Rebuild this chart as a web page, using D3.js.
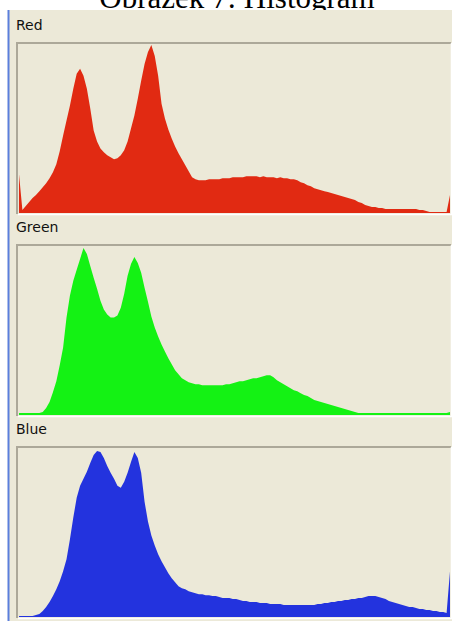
<!DOCTYPE html>
<html>
<head>
<meta charset="utf-8">
<script src="https://cdn.jsdelivr.net/npm/d3@7"></script>
<style>
  body { margin: 0; background: #fff; }
  svg { display: block; }
</style>
</head>
<body>
<svg id="chart" width="452" height="621"></svg>
<script>
var title = "Obrázek 7: Histogram";
var channels = ["Red", "Green", "Blue"];
var channelColors = ["#e12a12", "#14f214", "#2333de"];

// 128 bins, two intensity levels each
var levels = d3.range(0, 256, 2);

var redValues = [
    39, 3, 7, 11, 15, 18, 22, 26, 30, 35, 41, 49, 62, 78, 93, 108,
    125, 140, 145, 138, 125, 105, 83, 72, 65, 61, 58, 56, 54, 55, 58, 63,
    72, 85, 98, 115, 133, 150, 162, 169, 158, 138, 110, 95, 84, 75, 67, 60,
    54, 48, 42, 36, 34, 33, 33, 33, 34, 34, 34, 34, 35, 35, 35, 36,
    36, 36, 36, 37, 37, 37, 37, 36, 37, 36, 36, 36, 35, 36, 35, 35,
    34, 34, 33, 31, 30, 28, 27, 25, 24, 23, 22, 21, 20, 19, 18, 17,
    16, 15, 14, 13, 11, 10, 8, 7, 6, 6, 5, 5, 4, 4, 4, 4,
    4, 4, 4, 4, 4, 4, 3, 3, 2, 1, 1, 1, 1, 1, 1, 18
];

var greenValues = [
    2, 2, 2, 2, 2, 2, 2, 3, 7, 13, 23, 34, 50, 68, 98, 120,
    135, 146, 157, 168, 162, 150, 138, 127, 115, 106, 101, 98, 98, 100, 108, 122,
    140, 152, 159, 153, 143, 128, 114, 99, 88, 79, 71, 64, 57, 51, 45, 41,
    37, 35, 33, 32, 31, 31, 30, 30, 30, 30, 30, 30, 30, 31, 31, 32,
    33, 34, 34, 35, 36, 37, 37, 38, 39, 40, 40, 38, 35, 33, 31, 29,
    27, 25, 24, 22, 20, 19, 17, 15, 14, 13, 12, 11, 10, 9, 8, 7,
    6, 5, 4, 3, 2, 2, 2, 2, 2, 2, 2, 2, 2, 2, 2, 2,
    2, 2, 2, 2, 2, 2, 2, 2, 2, 2, 2, 2, 2, 2, 2, 3
];

var blueValues = [
    1, 1, 1, 1, 1, 2, 3, 6, 10, 15, 21, 28, 36, 46, 58, 78,
    100, 120, 132, 139, 146, 155, 163, 167, 166, 160, 152, 145, 139, 132, 130, 136,
    145, 156, 166, 160, 145, 116, 96, 82, 72, 63, 56, 50, 44, 39, 35, 31,
    29, 28, 26, 25, 24, 23, 23, 22, 22, 21, 21, 20, 19, 19, 19, 18,
    18, 17, 16, 16, 15, 15, 15, 14, 14, 14, 13, 13, 13, 13, 12, 12,
    12, 12, 12, 12, 12, 12, 12, 12, 13, 13, 14, 14, 15, 15, 16, 16,
    17, 17, 18, 18, 19, 19, 20, 21, 21, 21, 20, 19, 18, 16, 15, 14,
    13, 12, 11, 10, 10, 9, 8, 8, 7, 7, 6, 6, 5, 5, 4, 46
];

var series = [redValues, greenValues, blueValues];

var svg = d3.select("#chart");

// page title, mostly cut off by the window above it
svg.append("text")
    .attr("x", 237)
    .attr("y", 8)
    .attr("text-anchor", "middle")
    .style("font-family", "'Liberation Serif', 'Times New Roman', serif")
    .style("font-size", "31px")
    .attr("fill", "#000")
    .text(title);

// window body
svg.append("rect")
    .attr("x", 9).attr("y", 10)
    .attr("width", 443).attr("height", 611)
    .attr("fill", "#ece9d8");
svg.append("line")
    .attr("x1", 8.5).attr("x2", 8.5)
    .attr("y1", 10).attr("y2", 621)
    .attr("stroke", "#5b7fdc")
    .attr("stroke-width", 2);

var x = d3.scaleLinear()
    .domain([0, levels.length - 1])
    .range([19, 450]);

var panelTop = 43, panelStep = 202, plotH = 170;

channels.forEach(function(name, k) {
    var top = panelTop + k * panelStep;
    var g = svg.append("g");

    var y = d3.scaleLinear()
        .domain([0, 170])
        .range([top + plotH, top + 1]);

    g.append("text")
        .attr("x", 16)
        .attr("y", top - 13)
        .style("font-family", "'DejaVu Sans', Tahoma, sans-serif")
        .style("font-size", "14px")
        .attr("fill", "#111")
        .text(name);

    // sunken frame: dark top/left, white bottom/right
    g.append("path")
        .attr("d", "M17," + (top + plotH + 1) + "V" + top + "H451")
        .attr("fill", "none")
        .attr("stroke", "#aca899")
        .attr("stroke-width", 2);
    g.append("path")
        .attr("d", "M18," + (top + plotH + 1.5) + "H451.5V" + top)
        .attr("fill", "none")
        .attr("stroke", "#ffffff")
        .attr("stroke-width", 1.5);

    var area = d3.area()
        .x(function(d, i) { return x(i); })
        .y0(top + plotH)
        .y1(function(d) { return y(d); })
        .curve(d3.curveLinear);

    g.append("path")
        .datum(series[k])
        .attr("d", area)
        .attr("fill", channelColors[k]);
});
</script>
</body>
</html>
